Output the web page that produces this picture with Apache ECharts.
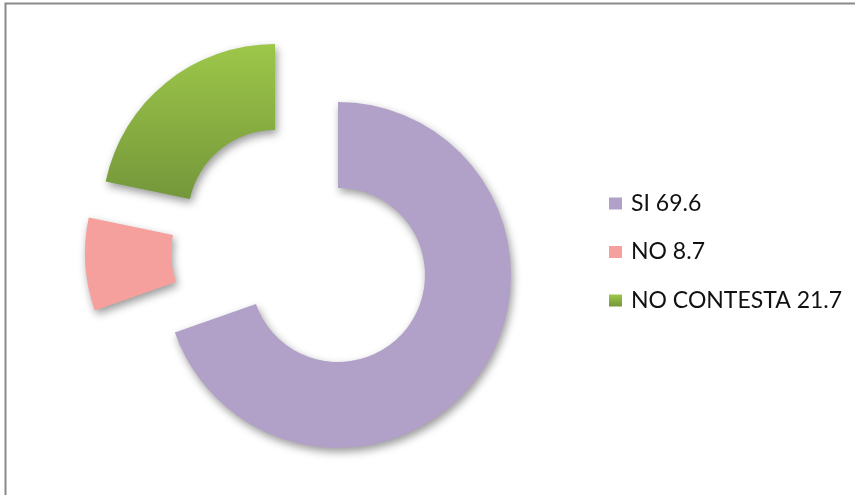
<!DOCTYPE html>
<html>
<head>
<meta charset="utf-8">
<script src="https://cdn.jsdelivr.net/npm/echarts@6/dist/echarts.min.js"></script>
<style>
  html, body { margin: 0; padding: 0; background: #fff; }
  #chart { width: 855px; height: 495px; }
</style>
</head>
<body>
<div id="chart"></div>
<script>
const categories = ['SI', 'NO', 'NO CONTESTA']
const values = [69.6, 8.7, 21.7]
const colors = ['#B1A0C7', '#F5A09D', null]
// each slice is pulled out of the ring to its own centre
const centers = [[338, 275], [258, 253], [275, 217]]

const chart = echarts.init(document.getElementById('chart'))

const greenFill = new echarts.graphic.LinearGradient(0, 0, 0, 1, [
  { offset: 0, color: '#9DC749' },
  { offset: 1, color: '#74973A' }
])
const fillOf = i => (i === 2 ? greenFill : colors[i])

const series = categories.map((c, k) => ({
  type: 'pie',
  center: centers[k],
  radius: [87, 173],
  startAngle: 90,
  clockwise: true,
  silent: true,
  label: { show: false },
  labelLine: { show: false },
  emphasis: { disabled: true },
  data: categories.map((name, i) => ({
    name,
    value: values[i],
    itemStyle: i === k ? {
      color: fillOf(i),
      shadowBlur: 8,
      shadowOffsetX: 2,
      shadowOffsetY: 4,
      shadowColor: 'rgba(0,0,0,0.4)'
    } : { color: 'rgba(0,0,0,0)' }
  }))
}))

const option = {
  animation: false,
  graphic: [{
    type: 'rect',
    shape: { x: 5.5, y: 3.5, width: 900, height: 600 },
    style: { fill: 'none', stroke: '#8a8a8a', lineWidth: 2 },
    silent: true
  }],
  legend: {
    orient: 'vertical',
    left: 604,
    top: 187,
    itemWidth: 13,
    itemHeight: 12,
    itemGap: 25.5,
    icon: 'rect',
    selectedMode: false,
    data: categories.map((name, i) => ({ name, itemStyle: { color: fillOf(i) } })),
    formatter: name => name + ' ' + values[categories.indexOf(name)],
    textStyle: {
      fontFamily: 'Lato',
      fontSize: 23,
      lineHeight: 23,
      color: '#111',
      padding: [0, 0, 0, 4]
    }
  },
  series
}

chart.setOption(option)
</script>
</body>
</html>
